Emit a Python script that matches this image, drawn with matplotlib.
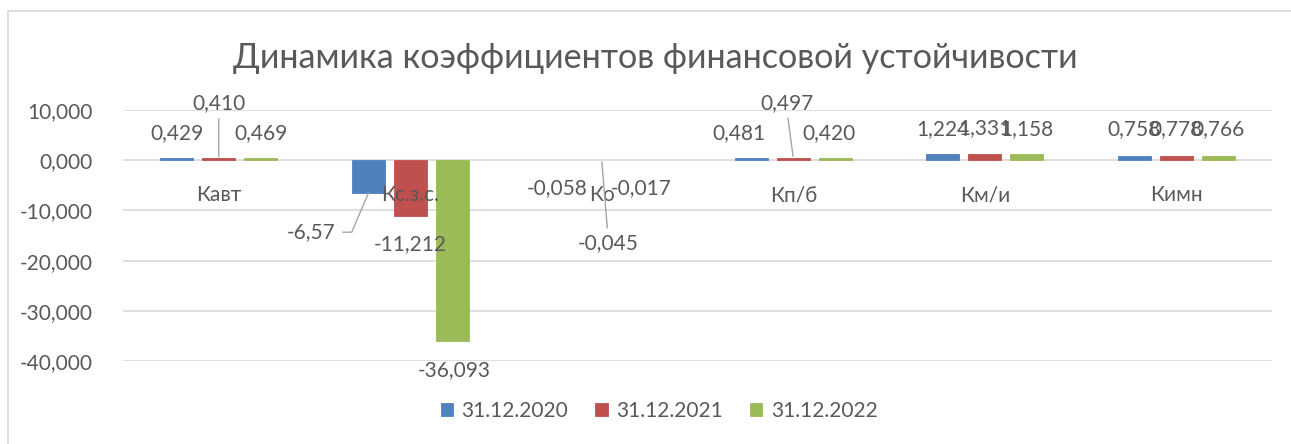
import matplotlib
matplotlib.use('Agg')
import matplotlib.pyplot as plt
from matplotlib.patches import Rectangle
import numpy as np

plt.rcParams['font.family'] = ['Lato', 'DejaVu Sans']

categories = ['Кавт', 'Кс.з.с.', 'Ко', 'Кп/б', 'Км/и', 'Кимн']
series_names = ['31.12.2020', '31.12.2021', '31.12.2022']
v2020 = [0.429, -6.57, -0.058, 0.481, 1.224, 0.758]
v2021 = [0.410, -11.212, -0.045, 0.497, 1.331, 0.778]
v2022 = [0.469, -36.093, -0.017, 0.420, 1.158, 0.766]
label_text = [['0,429', '-6,57', '-0,058', '0,481', '1,224', '0,758'],
              ['0,410', '-11,212', '-0,045', '0,497', '1,331', '0,778'],
              ['0,469', '-36,093', '-0,017', '0,420', '1,158', '0,766']]
yticks = [10, 0, -10, -20, -30, -40]
ytick_labels = ['10,000', '0,000', '-10,000', '-20,000', '-30,000', '-40,000']
title = 'Динамика коэффициентов финансовой устойчивости'

colors = ['#4F81BD', '#C0504D', '#9BBB59']
txt = '#595959'
grid = '#D9D9D9'

# label offsets in pixels (dx, dy) from the bar end, and which ones get a leader line
offsets = [
    [(0, 25), (-57, -39), (-3, -28), (-12, 25), (0, 25), (0, 27)],
    [(0, 55), (0, -28), (6, -83), (-6, 55), (0, 25), (0, 27)],
    [(0, 25), (2, -29), (-3, -28), (-6, 25), (0, 25), (0, 27)],
]
leaders = {(1, 0), (0, 1), (1, 2), (1, 3)}

W, H = 1291, 444
fig = plt.figure(figsize=(W / 100, H / 100), dpi=100)
ax = fig.add_axes([123 / W, 1 - 361 / H, (1272 - 123) / W, (361 - 110) / H])

x = np.arange(len(categories))
bw = 0.172
step = 0.219
data = [v2020, v2021, v2022]
for i, vals in enumerate(data):
    xs = x + (i - 1) * step
    # thin outline only where the bar is big enough to show in the original
    lws = [0.6 if abs(v) > 0.1 else 0 for v in vals]
    ax.bar(xs, vals, bw, color=colors[i], edgecolor=colors[i], linewidth=lws,
           label=series_names[i], zorder=3)
    for j, v in enumerate(vals):
        dx, dy = offsets[i][j]
        if (i, j) in leaders:
            if dy < 0 and dx < -20:
                ap = dict(arrowstyle='-', color='#A6A6A6', lw=1,
                          connectionstyle='angle,angleA=0,angleB=67,rad=0',
                          relpos=(1, 0.5), shrinkA=3, shrinkB=0)
            else:
                ap = dict(arrowstyle='-', color='#A6A6A6', lw=1,
                          relpos=(0.5, 0 if dy > 0 else 1), shrinkA=2, shrinkB=1)
        else:
            ap = None
        ax.annotate(label_text[i][j], (xs[j], v), xytext=(dx, dy),
                    textcoords='offset pixels', ha='center', va='center',
                    fontsize=15, color=txt, arrowprops=ap, zorder=5)

for j, c in enumerate(categories):
    ax.text(x[j], -7, c, ha='center', va='center', fontsize=15, color=txt, zorder=4)

ax.set_xlim(-0.5, len(categories) - 0.5)
ax.set_ylim(-40, 10)
ax.set_yticks(yticks)
ax.set_yticklabels(ytick_labels, fontsize=15, color=txt)
ax.tick_params(axis='y', length=0, pad=22)
ax.set_xticks([])
for s in ax.spines.values():
    s.set_visible(False)
ax.grid(axis='y', color=grid, linewidth=1.2, zorder=0)
ax.set_axisbelow(True)

fig.text(655 / W, 1 - 58 / H, title, ha='center', va='center', fontsize=24.6, color=txt)

fig.legend(loc='center', bbox_to_anchor=(659 / W, 1 - 411 / H), ncol=3, frameon=False,
           fontsize=15, labelcolor=txt, handlelength=0.6, handleheight=0.6,
           handletextpad=0.4, columnspacing=1.3)

fig.patches.append(Rectangle((8 / W, -0.1), 1.2, 1 - 11 / H + 0.1, transform=fig.transFigure,
                             fill=False, edgecolor='#D9D9D9', linewidth=1.2))

fig.savefig('out.png', dpi=100)
